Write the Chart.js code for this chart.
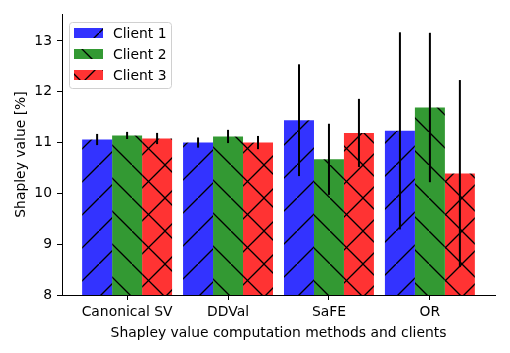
<!DOCTYPE html>
<html>
<head>
<meta charset="utf-8">
<script src="https://cdn.jsdelivr.net/npm/chart.js@4.4.0/dist/chart.umd.min.js"></script>
<style>
  html, body { margin: 0; padding: 0; background: #fff; }
</style>
</head>
<body>
<canvas id="canvas" width="510" height="353"></canvas>
<script>
// datos del gráfico
var methods = ['Canonical SV', 'DDVal', 'SaFE', 'OR'];
var clients = ['Client 1', 'Client 2', 'Client 3'];
var client1 = [11.06, 11.00, 11.44, 11.23];
var client2 = [11.14, 11.12, 10.67, 11.69];
var client3 = [11.08, 11.00, 11.19, 10.39];
var err1 = [0.11, 0.10, 1.10, 1.94];
var err2 = [0.07, 0.13, 0.70, 1.47];
var err3 = [0.11, 0.13, 0.67, 1.84];
var yTicks = [8, 9, 10, 11, 12, 13];

var colors = ['#3333ff', '#339933', '#ff3333'];
var hatches = ['/', '\\', 'x'];
var FONT = 'DejaVu Sans';

// patrón de rayado tipo matplotlib
function makeHatch(color, kind) {
  var s = 33;
  var c = document.createElement('canvas');
  c.width = s; c.height = s;
  var g = c.getContext('2d');
  g.fillStyle = color;
  g.fillRect(0, 0, s, s);
  g.strokeStyle = '#000';
  g.lineWidth = 1.3;
  function seg(x1, y1, x2, y2) { g.beginPath(); g.moveTo(x1, y1); g.lineTo(x2, y2); g.stroke(); }
  if (kind === '/' || kind === 'x') {
    seg(-2, s + 2, s + 2, -2);
  }
  if (kind === '\\' || kind === 'x') {
    seg(-2, -2, s + 2, s + 2);
  }
  return g.createPattern(c, 'repeat');
}

var values = [client1, client2, client3];
var errors = [err1, err2, err3];

var datasets = clients.map(function (name, k) {
  return {
    label: name,
    data: values[k].map(function (v, i) { return { x: i, y: v }; }),
    errs: errors[k],
    backgroundColor: makeHatch(colors[k], hatches[k]),
    borderWidth: 0,
    categoryPercentage: 90 / 101,
    barPercentage: 1
  };
});

// barras de error
var errorBars = {
  id: 'errorBars',
  afterDatasetsDraw: function (chart) {
    var ctx = chart.ctx, y = chart.scales.y;
    ctx.save();
    ctx.strokeStyle = '#000';
    ctx.lineWidth = 2;
    chart.data.datasets.forEach(function (ds, k) {
      var meta = chart.getDatasetMeta(k);
      meta.data.forEach(function (bar, i) {
        var v = values[k][i], e = ds.errs[i];
        ctx.beginPath();
        ctx.moveTo(bar.x, y.getPixelForValue(v - e));
        ctx.lineTo(bar.x, y.getPixelForValue(v + e));
        ctx.stroke();
      });
    });
    ctx.restore();
  }
};

// leyenda dentro del área
var insideLegend = {
  id: 'insideLegend',
  afterDraw: function (chart) {
    var ctx = chart.ctx, a = chart.chartArea;
    var x0 = a.left + 7, y0 = a.top + 8, w = 102, h = 66;
    ctx.save();
    ctx.fillStyle = 'rgba(255,255,255,0.8)';
    ctx.strokeStyle = '#d0d0d0';
    ctx.lineWidth = 1;
    ctx.beginPath();
    ctx.roundRect(x0 + 0.5, y0 + 0.5, w, h, 3);
    ctx.fill();
    ctx.stroke();
    ctx.font = '13.9px "' + FONT + '"';
    ctx.textBaseline = 'middle';
    chart.data.datasets.forEach(function (ds, k) {
      var cy = y0 + 11 + k * 21;
      ctx.fillStyle = ds.backgroundColor;
      ctx.fillRect(x0 + 5, cy - 5, 29, 10);
      ctx.fillStyle = '#000';
      ctx.fillText(ds.label, x0 + 44, cy + 1);
    });
    ctx.restore();
  }
};

var chart = new Chart(document.getElementById('canvas'), {
  type: 'bar',
  data: { datasets: datasets },
  options: {
    responsive: false,
    animation: { duration: 0 },
    layout: { padding: { left: 0, top: 14, right: 15, bottom: 0 } },
    plugins: { legend: { display: false }, tooltip: { enabled: false } },
    scales: {
      x: {
        type: 'linear',
        min: -0.645,
        max: 3.645,
        offset: false,
        afterBuildTicks: function (s) { s.ticks = methods.map(function (m, i) { return { value: i }; }); },
        afterFit: function (s) { s.height = 58; },
        ticks: {
          autoSkip: false,
          maxRotation: 0,
          padding: 4,
          color: '#000',
          font: { family: FONT, size: 13.9 },
          callback: function (v) { return methods[v]; }
        },
        grid: { offset: false, drawOnChartArea: false, tickLength: 5, tickColor: '#000', tickWidth: 1 },
        border: { display: true, color: '#000', width: 1 },
        title: {
          display: true,
          text: 'Shapley value computation methods and clients',
          color: '#000',
          font: { family: FONT, size: 13.9 },
          padding: { top: 4, bottom: 11 }
        }
      },
      y: {
        min: 8,
        max: 13.53,
        afterBuildTicks: function (s) { s.ticks = yTicks.map(function (v) { return { value: v }; }); },
        afterFit: function (s) { s.width = 62; },
        ticks: {
          padding: 5,
          color: '#000',
          font: { family: FONT, size: 13.9 }
        },
        grid: { drawOnChartArea: false, tickLength: 5, tickColor: '#000', tickWidth: 1 },
        border: { display: true, color: '#000', width: 1 },
        title: {
          display: true,
          text: 'Shapley value [%]',
          color: '#000',
          font: { family: FONT, size: 13.9 },
          padding: { top: 13, bottom: 0 }
        }
      }
    }
  },
  plugins: [errorBars, insideLegend]
});
</script>
</body>
</html>
